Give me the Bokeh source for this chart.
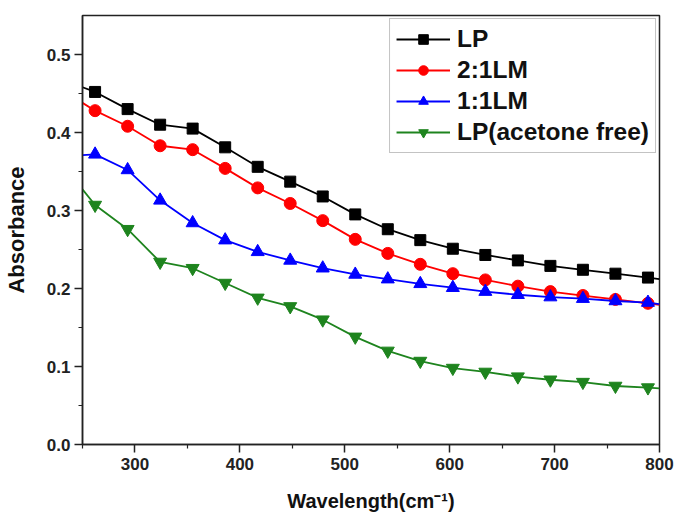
from bokeh.plotting import figure
from bokeh.models import Range1d, FixedTicker, NumeralTickFormatter, Legend
from bokeh.embed import file_html
from bokeh.resources import INLINE

# Wavelength sample positions (nm); first and last points are the curve ends
wavelength = [250, 262, 293, 324, 355, 386, 417, 448, 479, 510,
              541, 572, 603, 634, 665, 696, 727, 758, 789, 800]

lp = [0.458, 0.452, 0.430, 0.410, 0.405, 0.381, 0.356, 0.337, 0.318, 0.295,
      0.276, 0.262, 0.251, 0.243, 0.236, 0.229, 0.224, 0.219, 0.214, 0.212]
lm_2_1 = [0.438, 0.428, 0.408, 0.383, 0.378, 0.354, 0.329, 0.309, 0.287, 0.263,
          0.245, 0.231, 0.219, 0.211, 0.203, 0.196, 0.191, 0.186, 0.181, 0.179]
lm_1_1 = [0.371, 0.372, 0.352, 0.313, 0.284, 0.262, 0.247, 0.236, 0.226, 0.218,
          0.212, 0.206, 0.201, 0.196, 0.192, 0.189, 0.187, 0.184, 0.182, 0.180]
lp_acetone_free = [0.327, 0.307, 0.276, 0.234, 0.226, 0.207, 0.188, 0.177, 0.160, 0.138,
                   0.120, 0.107, 0.098, 0.093, 0.087, 0.083, 0.080, 0.075, 0.073, 0.072]

labels = ["LP", "2:1LM", "1:1LM", "LP(acetone free)"]
colors = ["#000000", "#ff0000", "#0000ff", "#1e841e"]
markers = ["square", "circle", "triangle", "inverted_triangle"]
sizes = [11, 12, 13, 13]
series = [lp, lm_2_1, lm_1_1, lp_acetone_free]

x_ticks = [300, 400, 500, 600, 700, 800]
x_minor = [250, 350, 450, 550, 650, 750]
y_ticks = [0.0, 0.1, 0.2, 0.3, 0.4, 0.5]
y_minor = [0.05, 0.15, 0.25, 0.35, 0.45]

FONT = "Liberation Sans"

p = figure(width=675, height=516, output_backend="svg", toolbar_location=None,
           x_range=Range1d(250, 800), y_range=Range1d(0, 0.55),
           min_border_left=82, min_border_right=16, min_border_top=15,
           min_border_bottom=72)
p.background_fill_color = "white"
p.border_fill_color = "white"
p.grid.visible = False
p.outline_line_color = "#222222"
p.outline_line_width = 1.5

legend_items = []
for lab, col, mk, sz, ys in zip(labels, colors, markers, sizes, series):
    ln = p.line(wavelength, ys, line_color=col, line_width=1.8)
    sc = p.scatter(wavelength[1:-1], ys[1:-1], marker=mk, size=sz,
                   fill_color=col, line_color=col)
    legend_items.append((lab, [ln, sc]))

xa = p.xaxis[0]
xa.ticker = FixedTicker(ticks=x_ticks, minor_ticks=x_minor)
ya = p.yaxis[0]
ya.ticker = FixedTicker(ticks=y_ticks, minor_ticks=y_minor)
ya.formatter = NumeralTickFormatter(format="0.0")

for ax in (xa, ya):
    ax.axis_line_width = 1.5
    ax.axis_line_color = "#222222"
    ax.major_tick_line_color = "#222222"
    ax.minor_tick_line_color = "#222222"
    ax.major_tick_line_width = 1.5
    ax.minor_tick_line_width = 1.2
    ax.major_tick_out = 8
    ax.major_tick_in = 0
    ax.minor_tick_out = 4
    ax.minor_tick_in = 0
    ax.major_label_text_font = FONT
    ax.major_label_text_font_style = "bold"
    ax.major_label_text_font_size = "17px"
    ax.major_label_text_color = "#222222"
    ax.axis_label_text_font = FONT
    ax.axis_label_text_font_style = "bold"
    ax.axis_label_text_color = "#111111"

xa.axis_label = "Wavelength(cm\u207b\u00b9)"
xa.axis_label_text_font_size = "20px"
xa.major_label_standoff = 5
xa.axis_label_standoff = 17
ya.axis_label = "Absorbance"
ya.axis_label_text_font_size = "22px"
ya.major_label_standoff = 4
ya.axis_label_standoff = 15

legend = Legend(items=legend_items, location="top_right",
                label_text_font=FONT, label_text_font_style="bold",
                label_text_font_size="24.5px", label_text_color="#111111",
                glyph_width=54, glyph_height=24, label_standoff=7,
                spacing=3, padding=6, margin=3,
                border_line_color="#888888", border_line_width=1.2,
                background_fill_alpha=1.0)
p.add_layout(legend)

open("out.html", "w").write(file_html(p, INLINE))
